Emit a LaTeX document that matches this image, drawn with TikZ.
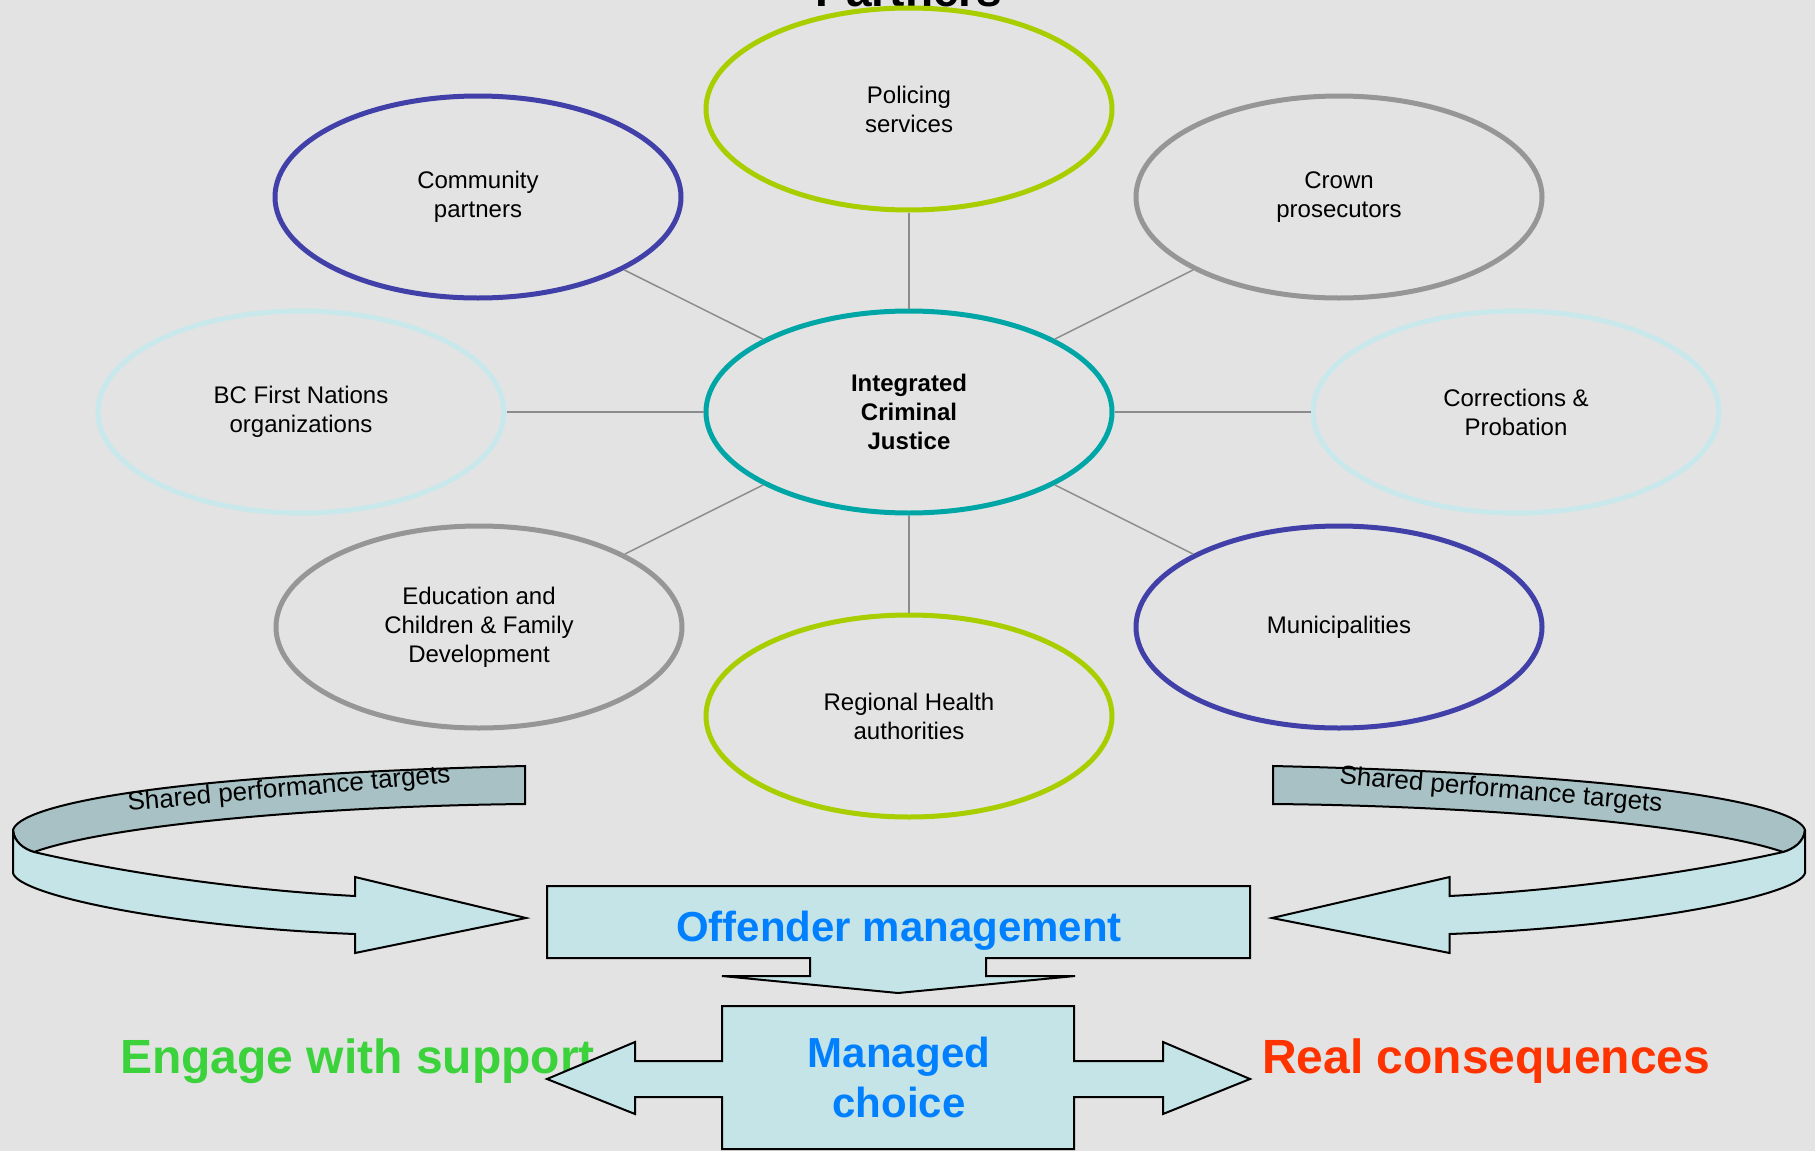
\documentclass[tikz,border=0pt]{standalone}
\usepackage{fontspec}
\setmainfont{Liberation Sans}
\usetikzlibrary{shapes.geometric}
\definecolor{bgc}{RGB}{227,227,227}
\definecolor{limec}{RGB}{168,206,0}
\definecolor{navyc}{RGB}{64,64,168}
\definecolor{grayc}{RGB}{150,150,150}
\definecolor{palec}{RGB}{200,232,236}
\definecolor{tealc}{RGB}{0,166,166}
\definecolor{bandback}{RGB}{167,193,196}
\definecolor{bandfront}{RGB}{197,228,232}
\definecolor{bluetxt}{RGB}{0,128,255}
\definecolor{greentxt}{RGB}{60,210,60}
\definecolor{redtxt}{RGB}{255,51,0}
\definecolor{linkc}{RGB}{140,140,140}
\newcommand\spLoopBack{(525,766) -- (525,804) .. controls (320,806) and (110,825) .. (34,852) .. controls (24,849) and (14,842) .. (13,830) .. controls (20,805) and (160,775) .. (525,766) -- cycle}
\newcommand\spLoopFront{(13,830) -- (13,873) .. controls (18,895) and (170,927) .. (355,934) -- (355,953) -- (526,918) -- (355,877) -- (355,896) .. controls (240,890) and (120,872) .. (34,852) .. controls (24,849) and (14,842) .. (13,830) -- cycle}
\tikzset{
  partner/.style={ellipse, draw, line width=5pt, minimum width=406pt, minimum height=202pt, inner sep=0pt, align=center, font=\fontsize{24}{29}\selectfont},
  link/.style={draw=linkc, line width=1.5pt},
  shapeline/.style={draw=black, line width=2pt, line join=miter},
  bandtxt/.style={font=\fontsize{26}{30}\selectfont},
  bigblue/.style={text=bluetxt, font=\fontsize{42}{50}\selectfont\bfseries, inner sep=0pt},
  bigword/.style={font=\fontsize{48}{56}\selectfont\bfseries, inner sep=0pt}
}
\begin{document}
\begin{tikzpicture}[x=1pt,y=-1pt]
\useasboundingbox (0,0) rectangle (1815,1151);
\fill[bgc] (0,0) rectangle (1815,1151);
\node[anchor=base, inner sep=0pt, font=\fontsize{46}{50}\selectfont\bfseries] (title) at (909,6) {Partners};

% ellipses
\node[partner, draw=tealc, font=\fontsize{24}{29}\selectfont\bfseries] (ijc) at (909,412) {Integrated\\Criminal\\Justice};
\node[partner, draw=limec] (pol) at (909,109) {Policing\\services};
\node[partner, draw=navyc] (com) at (478,197) {Community\\partners};
\node[partner, draw=grayc] (crown) at (1339,197) {Crown\\prosecutors};
\node[partner, draw=palec] (bcfn) at (301,412) {BC First Nations\\organizations};
\node[partner, draw=palec] (corr) at (1516,412) {Corrections \&\\Probation};
\node[partner, draw=grayc] (edu) at (479,627) {Education and\\Children \& Family\\Development};
\node[partner, draw=navyc] (muni) at (1339,627) {Municipalities};
\node[partner, draw=limec] (rha) at (909,716) {Regional Health\\authorities};

\foreach \t in {pol,com,crown,bcfn,corr,edu,muni,rha}
  \draw[link] (ijc) -- (\t);

% left loop arrow
\filldraw[shapeline, fill=bandback] \spLoopBack;
\filldraw[shapeline, fill=bandfront] \spLoopFront;
% right loop arrow (mirrored)
\begin{scope}[xshift=1818.5pt, xscale=-1.039]
\filldraw[shapeline, fill=bandback] \spLoopBack;
\filldraw[shapeline, fill=bandfront] \spLoopFront;
\end{scope}
\node[bandtxt, rotate=5] (sptl) at (289,790) {Shared performance targets};
\node[bandtxt, rotate=-5] (sptr) at (1501,791) {Shared performance targets};

% offender management callout
\filldraw[shapeline, fill=bandfront] (547,886) -- (1250,886) -- (1250,958) -- (986,958) -- (986,976) -- (1075,976) -- (898,993) -- (722,976) -- (810,976) -- (810,958) -- (547,958) -- cycle;
\node[bigblue, anchor=base] (om) at (899,941) {Offender management};

% side texts
\node[bigword, text=greentxt, anchor=base west] (ews) at (120,1073) {Engage with support};
\node[bigword, text=redtxt, anchor=base west] (rc) at (1262,1073) {Real consequences};

% managed choice callout
\filldraw[shapeline, fill=bandfront] (722,1006) -- (1074,1006) -- (1074,1061) -- (1163,1061) -- (1163,1042) -- (1250,1079) -- (1163,1114) -- (1163,1097) -- (1074,1097) -- (1074,1149) -- (722,1149) -- (722,1097) -- (635,1097) -- (635,1114) -- (547,1079) -- (635,1042) -- (635,1061) -- (722,1061) -- cycle;
\node[bigblue, anchor=base] (mc1) at (899,1067) {Managed};
\node[bigblue, anchor=base] (mc2) at (899,1117) {choice};
\end{tikzpicture}
\end{document}
